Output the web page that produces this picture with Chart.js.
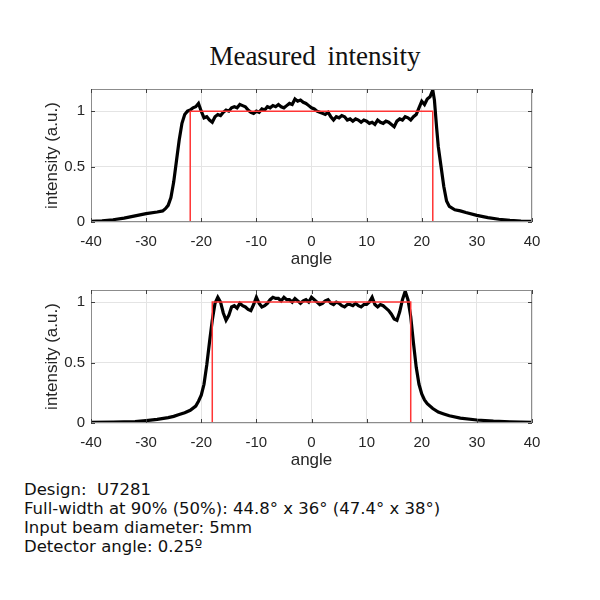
<!DOCTYPE html>
<html>
<head>
<meta charset="utf-8">
<script src="https://cdn.jsdelivr.net/npm/chart.js@4"></script>
<style>
  body { margin: 0; background: #fff; }
  #wrap { position: relative; width: 600px; height: 600px; background: #fff; }
  .cv { position: absolute; left: 0; }
  #title { position: absolute; top: 41px; left: 0; width: 630px; text-align: center;
           font-family: "Liberation Serif", serif; font-size: 27px; color: #111; word-spacing: 5px; }
  #notes { position: absolute; left: 24px; top: 480px; font-family: "DejaVu Sans", sans-serif;
           font-size: 16.5px; line-height: 19px; color: #111; }
</style>
</head>
<body>
<div id="wrap">
  <div id="title">Measured intensity</div>
  <div class="cv" style="top:74px"><canvas id="topChart" width="600" height="196"></canvas></div>
  <div class="cv" style="top:275px"><canvas id="bottomChart" width="600" height="196"></canvas></div>
  <div id="notes">
    Design:&nbsp; U7281<br>
    Full-width at 90% (50%): 44.8° x 36° (47.4° x 38°)<br>
    Input beam diameter: 5mm<br>
    Detector angle: 0.25º
  </div>
</div>
<script>
// ---- data ----
const xTicks = [-40, -30, -20, -10, 0, 10, 20, 30, 40];
const yTicks = [0, 0.5, 1];

// top plot: measured profile
const angleTop = [-40,-38,-36,-34,-32,-30,-28,-27,-26.5,-26,-25.5,-25,-24.5,-24,-23.5,-23,-22.5,-22,-21.5,-21,
  -20.5,-20,-19.5,-19,-18.5,-18,-17.5,-17,-16.5,-16,-15.5,-15,-14.5,-14,-13.5,-13,-12.5,-12,-11.5,-11,
  -10.5,-10,-9.5,-9,-8.5,-8,-7.5,-7,-6.5,-6,-5.5,-5,-4.5,-4,-3.5,-3,-2.5,-2,-1.5,-1,
  -0.5,0,0.5,1,1.5,2,2.5,3,3.5,4,4.5,5,5.5,6,6.5,7,7.5,8,8.5,9,
  9.5,10,10.5,11,11.5,12,12.5,13,13.5,14,14.5,15,15.5,16,16.5,17,17.5,18,18.5,19,
  19.5,20,20.5,21,21.5,22,22.3,22.7,23,23.5,24,24.5,25,26,27,28,30,32,34,36,38,40];
const intensityTop = [0.005,0.01,0.02,0.035,0.055,0.075,0.09,0.10,0.12,0.15,0.22,0.36,0.55,0.74,0.89,0.97,1.00,1.01,1.03,1.04,
  1.07,1.00,0.94,0.95,0.92,0.90,0.95,0.97,0.96,0.99,1.01,1.00,1.03,1.04,1.03,1.06,1.05,1.04,1.01,0.99,
  0.98,1.00,0.99,1.02,1.01,1.04,1.03,1.05,1.04,1.06,1.04,1.03,1.05,1.07,1.06,1.11,1.09,1.10,1.08,1.07,
  1.05,1.03,1.02,1.00,0.99,0.98,0.97,0.99,0.95,0.92,0.95,0.94,0.96,0.95,0.92,0.93,0.91,0.93,0.92,0.90,
  0.92,0.91,0.89,0.90,0.88,0.92,0.90,0.89,0.91,0.90,0.88,0.86,0.91,0.93,0.92,0.95,0.94,0.92,0.95,0.97,
  1.03,1.09,1.06,1.11,1.13,1.19,1.10,0.85,0.68,0.50,0.32,0.19,0.14,0.11,0.10,0.085,0.06,0.04,0.025,0.015,0.008,0.005];
// top plot: design (red) target
const designTopX = [-40, -22, -22, 22, 22, 40];
const designTopY = [0, 0, 1, 1, 0, 0];

// bottom plot: measured profile
const angleBottom = [-40,-36,-32,-30,-28,-26,-25,-24,-23,-22,-21,-20.5,-20,-19.5,-19,-18.5,-18,-17.5,-17,-16.5,
  -16,-15.5,-15,-14.5,-14,-13.5,-13,-12.5,-12,-11.5,-11,-10.5,-10,-9.5,-9,-8.5,-8,-7.5,-7,-6.5,
  -6,-5.5,-5,-4.5,-4,-3.5,-3,-2.5,-2,-1.5,-1,-0.5,0,0.5,1,1.5,2,2.5,3,3.5,
  4,4.5,5,5.5,6,6.5,7,7.5,8,8.5,9,9.5,10,10.5,11,11.5,12,12.5,13,13.5,
  14,14.5,15,15.5,16,16.5,17,17.5,18,18.5,19,19.5,20,20.5,21,22,23,24,25,27,30,33,36,40];
const intensityBottom = [0.005,0.008,0.012,0.02,0.03,0.045,0.055,0.07,0.085,0.105,0.14,0.18,0.23,0.32,0.48,0.67,0.85,0.99,1.04,1.00,
  0.91,0.85,0.89,0.96,0.97,0.95,0.99,0.97,0.96,0.94,0.93,0.98,1.04,0.99,0.96,0.97,0.99,1.02,1.04,1.03,
  1.03,1.01,1.04,1.02,1.02,1.00,1.03,1.01,0.99,1.01,1.02,1.00,1.04,1.02,1.00,0.98,0.99,1.01,1.02,0.99,
  0.98,1.00,0.99,0.97,0.96,0.98,0.98,0.97,0.99,0.97,0.96,0.98,0.98,1.00,1.04,0.98,0.96,0.98,0.97,0.95,
  0.93,0.90,0.86,0.85,0.92,1.02,1.09,1.02,0.88,0.66,0.46,0.32,0.24,0.19,0.16,0.12,0.09,0.075,0.06,0.04,0.025,0.015,0.01,0.005];
const designBottomX = [-40, -18, -18, 18, 18, 40];
const designBottomY = [0, 0, 1, 1, 0, 0];

const toPoints = (xs, ys) => xs.map((x, i) => ({ x: x, y: ys[i] }));

// box around the plot area with short inward ticks (matlab look)
const boxPlugin = {
  id: 'box',
  afterDraw(chart) {
    const { ctx, chartArea: a, scales } = chart;
    ctx.save();
    ctx.strokeStyle = '#8c8c8c';
    ctx.lineWidth = 1;
    ctx.strokeRect(a.left + 0.5, a.top + 0.5, a.right - a.left - 1, a.bottom - a.top - 1);
    ctx.strokeStyle = '#404040';
    ctx.beginPath();
    xTicks.forEach(v => {
      const px = Math.round(scales.x.getPixelForValue(v)) + 0.5;
      ctx.moveTo(px, a.bottom); ctx.lineTo(px, a.bottom - 4);
      ctx.moveTo(px, a.top); ctx.lineTo(px, a.top + 4);
    });
    yTicks.forEach(v => {
      const py = Math.round(scales.y.getPixelForValue(v)) + 0.5;
      ctx.moveTo(a.left, py); ctx.lineTo(a.left + 4, py);
      ctx.moveTo(a.right, py); ctx.lineTo(a.right - 4, py);
    });
    ctx.stroke();
    ctx.restore();
  }
};

function makeChart(id, xs, ys, dx, dy, yMax) {
  const tickFont = { family: 'Liberation Sans, Arial, sans-serif', size: 15 };
  const titleFont = { family: 'Liberation Sans, Arial, sans-serif', size: 17 };
  return new Chart(document.getElementById(id).getContext('2d'), {
    type: 'line',
    data: {
      datasets: [
        { // design target, drawn on top
          data: toPoints(dx, dy),
          borderColor: '#ff3535',
          borderWidth: 1.5,
          pointRadius: 0,
          tension: 0
        },
        {
          data: toPoints(xs, ys),
          borderColor: '#000000',
          borderWidth: 3.2,
          pointRadius: 0,
          tension: 0
        }
      ]
    },
    options: {
      responsive: false,
      animation: false,
      layout: { padding: { left: 38, right: 68, top: 4, bottom: 0 } },
      plugins: { legend: { display: false }, tooltip: { enabled: false } },
      scales: {
        x: {
          type: 'linear',
          min: -40, max: 40,
          afterBuildTicks: axis => { axis.ticks = xTicks.map(v => ({ value: v })); },
          afterFit: axis => { axis.height = 48; },
          grid: { color: '#e4e4e4', drawTicks: false },
          border: { display: false },
          ticks: { color: '#262626', font: tickFont, padding: 11, maxRotation: 0, callback: v => String(v) },
          title: { display: true, text: 'angle', color: '#262626', font: titleFont, padding: { top: 0, bottom: 0 } }
        },
        y: {
          min: 0, max: yMax,
          afterBuildTicks: axis => { axis.ticks = yTicks.map(v => ({ value: v })); },
          afterFit: axis => { axis.width = 53; },
          grid: { color: '#e4e4e4', drawTicks: false },
          border: { display: false },
          ticks: { color: '#262626', font: tickFont, padding: 6, callback: v => String(v) },
          title: { display: true, text: 'intensity (a.u.)', color: '#262626', font: titleFont, padding: { bottom: 0 } }
        }
      }
    },
    plugins: [boxPlugin]
  });
}

makeChart('topChart', angleTop, intensityTop, designTopX, designTopY, 1.2);
makeChart('bottomChart', angleBottom, intensityBottom, designBottomX, designBottomY, 1.1);
</script>
</body>
</html>
